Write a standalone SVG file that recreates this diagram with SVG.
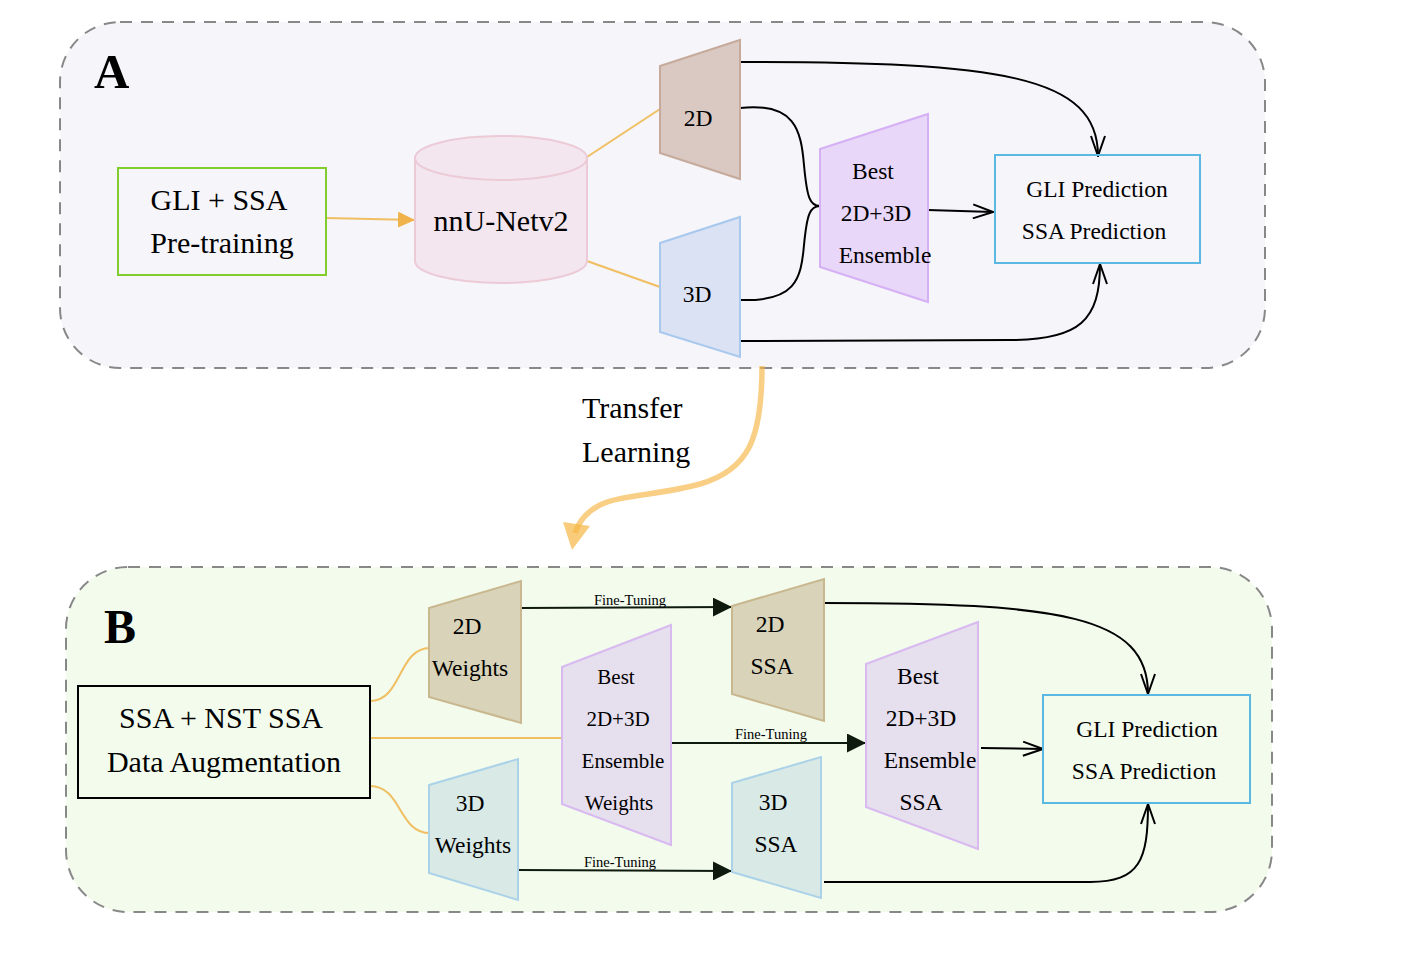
<svg xmlns="http://www.w3.org/2000/svg" width="1404" height="978" viewBox="0 0 1404 978">
<defs>
<style>
text{font-family:"Liberation Serif","Times New Roman",serif;fill:#000;text-anchor:middle}
.t29{font-size:30px}
.t23{font-size:23.5px}
.t21{font-size:21px}
.ft{font-size:14.5px}
.lbl{font-size:49px;font-weight:bold;text-anchor:start}
.panel{stroke:#888;stroke-width:2;stroke-dasharray:12 9}
.blk{fill:none;stroke:#000;stroke-width:2}
.org{fill:none;stroke:#f0bf62;stroke-width:2}
.ftl{fill:none;stroke:#0d1a0d;stroke-width:2}
</style>
<marker id="open" viewBox="0 0 22 16" refX="21" refY="8" markerWidth="22" markerHeight="16" markerUnits="userSpaceOnUse" orient="auto">
<path d="M1,1 L21,8 L1,15" fill="none" stroke="#000" stroke-width="2"/>
</marker>
<marker id="solid" viewBox="0 0 19 19" refX="19" refY="9.5" markerWidth="19" markerHeight="19" markerUnits="userSpaceOnUse" orient="auto">
<path d="M0,0 L19,9.5 L0,19 Z" fill="#0d1a0d"/>
</marker>
<marker id="ofill" viewBox="0 0 17 16" refX="17" refY="8" markerWidth="17" markerHeight="16" markerUnits="userSpaceOnUse" orient="auto">
<path d="M0,0 L17,8 L0,16 Z" fill="#f0b24a"/>
</marker>
</defs>

<g id="panelA">
<rect class="panel" x="60" y="22" width="1205" height="346" rx="60" fill="#f5f5fa"/>
<text class="lbl" x="94" y="88">A</text>
</g>
<g id="panelB">
<rect class="panel" x="66" y="567" width="1206" height="345" rx="62" fill="#f2fbec"/>
<text class="lbl" x="104" y="643" style="font-size:48px">B</text>
</g>

<g id="connectors">
<path class="org" d="M326,218 L415,220" marker-end="url(#ofill)"/>
<path class="org" d="M587,157 L660,109"/>
<path class="org" d="M587,261 L660,287"/>
<path class="blk" d="M740,62 C1000,62 1098,75 1098,156" marker-end="url(#open)"/>
<path class="blk" d="M740,108 C795,102 801,130 804,165 C807,198 810,206 820,206"/>
<path class="blk" d="M740,300 C795,302 801,280 804,245 C807,214 810,206 820,206"/>
<path class="blk" d="M928,210 L993,212" marker-end="url(#open)"/>
<path class="blk" d="M740,341 L1010,340 C1080,340 1100,320 1100,264" marker-end="url(#open)"/>
<path d="M762,366 C762,440 748,470 700,484 C660,495 620,495 600,505 C586,512 579,521 575,533" fill="none" stroke="#f5b642" stroke-opacity="0.65" stroke-width="5.5"/>
<polygon points="563,522 590,526 572,550" fill="#f5b642" fill-opacity="0.7"/>
<path class="org" d="M370,701 C402,701 398,648 430,648"/>
<path class="org" d="M370,738 L563,738"/>
<path class="org" d="M370,786 C402,786 398,833 430,833"/>
<path class="ftl" d="M521,608 L732,607" marker-end="url(#solid)"/>
<path class="ftl" d="M671,743 L866,743" marker-end="url(#solid)"/>
<path class="ftl" d="M518,870 L732,871" marker-end="url(#solid)"/>
<text class="ft" x="630" y="605">Fine-Tuning</text>
<text class="ft" x="771" y="739">Fine-Tuning</text>
<text class="ft" x="620" y="867">Fine-Tuning</text>
<path class="blk" d="M824,603 C1060,603 1148,615 1148,694" marker-end="url(#open)"/>
<path class="blk" d="M981,748 L1043,749" marker-end="url(#open)"/>
<path class="blk" d="M824,882 L1090,882 C1140,882 1148,860 1148,804" marker-end="url(#open)"/>
</g>

<g id="transfer-label">
<text class="t29" x="582" y="418" style="text-anchor:start">Transfer</text>
<text class="t29" x="582" y="462" style="text-anchor:start">Learning</text>
</g>

<g id="gli-ssa-pretraining">
<rect x="118" y="168" width="208" height="107" fill="none" stroke="#80cd2c" stroke-width="2"/>
<text class="t29" x="219" y="210">GLI + SSA</text>
<text class="t29" x="222" y="253">Pre-training</text>
</g>

<g id="nnunet">
<path d="M415,158 L415,261 A86,22 0 0 0 587,261 L587,158" fill="#f3e6ee" stroke="#eccad6" stroke-width="2"/>
<ellipse cx="501" cy="158" rx="86" ry="22" fill="#f3e6ee" stroke="#eccad6" stroke-width="2"/>
<text class="t29" x="501" y="231">nnU-Netv2</text>
</g>

<g id="a-2d">
<polygon points="660,66 740,40 740,179 660,153" fill="#d9c9c2" stroke="#c6ab9c" stroke-width="2"/>
<text class="t23" x="698" y="126">2D</text>
</g>
<g id="a-3d">
<polygon points="660,243 740,217 740,357 660,332" fill="#dae2f4" stroke="#a9c8ee" stroke-width="2"/>
<text class="t23" x="697" y="302">3D</text>
</g>
<g id="a-ensemble">
<polygon points="820,149 928,114 928,302 820,267" fill="#e8d7f8" stroke="#d6b0f5" stroke-width="2"/>
<text class="t23" x="873" y="179">Best</text>
<text class="t23" x="876" y="221">2D+3D</text>
<text class="t23" x="885" y="263">Ensemble</text>
</g>
<g id="a-prediction">
<rect x="995" y="155" width="205" height="108" fill="none" stroke="#5ab8e2" stroke-width="2"/>
<text class="t23" x="1097" y="197">GLI Prediction</text>
<text class="t23" x="1094" y="239">SSA Prediction</text>
</g>

<g id="ssa-nst-aug">
<rect x="78" y="686" width="292" height="112" fill="none" stroke="#000" stroke-width="2"/>
<text class="t29" x="221" y="728">SSA + NST SSA</text>
<text class="t29" x="224" y="772">Data Augmentation</text>
</g>
<g id="b-2d-weights">
<polygon points="429,608 521,581 521,723 429,697" fill="#d8d3b9" stroke="#c9b88f" stroke-width="2"/>
<text class="t23" x="467" y="634">2D</text>
<text class="t23" x="470" y="676">Weights</text>
</g>
<g id="b-3d-weights">
<polygon points="429,785 518,759 518,900 429,873" fill="#d8e9e6" stroke="#abd2e8" stroke-width="2"/>
<text class="t23" x="470" y="811">3D</text>
<text class="t23" x="473" y="853">Weights</text>
</g>
<g id="b-ensemble-weights">
<polygon points="562,667 671,625 671,845 562,804" fill="#e6dfee" stroke="#d8baf0" stroke-width="2"/>
<text class="t21" x="616" y="684">Best</text>
<text class="t21" x="618" y="726">2D+3D</text>
<text class="t21" x="623" y="768">Ensemble</text>
<text class="t21" x="619" y="810">Weights</text>
</g>
<g id="b-2d-ssa">
<polygon points="732,606 824,579 824,721 732,694" fill="#d8d3b9" stroke="#c9b88f" stroke-width="2"/>
<text class="t23" x="770" y="632">2D</text>
<text class="t23" x="772" y="674">SSA</text>
</g>
<g id="b-3d-ssa">
<polygon points="732,783 821,757 821,898 732,872" fill="#d8e9e6" stroke="#abd2e8" stroke-width="2"/>
<text class="t23" x="773" y="810">3D</text>
<text class="t23" x="776" y="852">SSA</text>
</g>
<g id="b-ensemble-ssa">
<polygon points="866,664 978,622 978,849 866,807" fill="#e6dfee" stroke="#d8baf0" stroke-width="2"/>
<text class="t23" x="918" y="684">Best</text>
<text class="t23" x="921" y="726">2D+3D</text>
<text class="t23" x="930" y="768">Ensemble</text>
<text class="t23" x="921" y="810">SSA</text>
</g>
<g id="b-prediction">
<rect x="1043" y="695" width="207" height="108" fill="none" stroke="#5ab8e2" stroke-width="2"/>
<text class="t23" x="1147" y="737">GLI Prediction</text>
<text class="t23" x="1144" y="779">SSA Prediction</text>
</g>
</svg>
